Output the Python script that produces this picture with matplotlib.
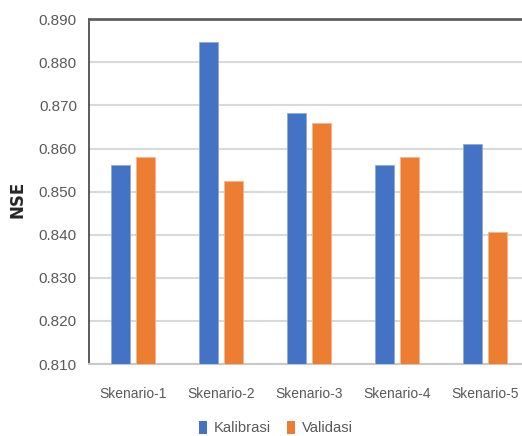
import matplotlib
matplotlib.use("Agg")
import matplotlib.pyplot as plt
import numpy as np
from matplotlib.patches import Patch

scenarios = ["Skenario-1", "Skenario-2", "Skenario-3", "Skenario-4", "Skenario-5"]
kalibrasi = [0.8562, 0.8847, 0.8682, 0.8562, 0.8611]
validasi = [0.8581, 0.8524, 0.8659, 0.8581, 0.8407]
y_ticks = [0.810, 0.820, 0.830, 0.840, 0.850, 0.860, 0.870, 0.880, 0.890]

BLUE = "#4472C4"
ORANGE = "#ED7D31"
TEXT = "#595959"
FONT = ["Liberation Sans", "DejaVu Sans"]

fig = plt.figure(figsize=(5.22, 4.36), dpi=100)
ax = fig.add_axes([0.170, 0.165, 0.843, 0.791])

x = np.arange(len(scenarios))
w = 0.216
off = 0.141
ax.bar(x - off, kalibrasi, width=w, color=BLUE, edgecolor="#8fa9dc", linewidth=0.6, zorder=3)
ax.bar(x + off, validasi, width=w, color=ORANGE, edgecolor="#f5b48f", linewidth=0.6, zorder=3)

ax.set_xlim(-0.5, len(scenarios) - 0.5)
ax.set_ylim(0.810, 0.890)
ax.set_yticks(y_ticks)
ax.set_yticklabels([f"{v:.3f}" for v in y_ticks])
ax.set_xticks(x)
ax.set_xticklabels(scenarios)

ax.yaxis.grid(True, color="#d9d9d9", linewidth=1.5, zorder=0)
ax.set_axisbelow(True)
ax.tick_params(axis="both", length=0, colors=TEXT)
ax.tick_params(axis="y", pad=8.5)
ax.tick_params(axis="x", pad=16.5)
for lab in ax.get_yticklabels():
    lab.set_family(FONT)
    lab.set_fontsize(11)
for lab in ax.get_xticklabels():
    lab.set_family(FONT)
    lab.set_fontsize(10)

ax.spines["right"].set_visible(False)
ax.spines["left"].set_color("#404040")
ax.spines["left"].set_linewidth(1.2)
ax.spines["top"].set_color("#606060")
ax.spines["top"].set_linewidth(2.0)
ax.spines["bottom"].set_color("#c8c8c8")
ax.spines["bottom"].set_linewidth(1.5)

fig.text(17 / 522, 1 - 199 / 436, "NSE", rotation=90, ha="center", va="center",
         fontsize=12, fontweight="bold", color="#262626", family="DejaVu Sans")

handles = [Patch(facecolor=BLUE, label="Kalibrasi"), Patch(facecolor=ORANGE, label="Validasi")]
leg = fig.legend(handles=handles, loc="center", bbox_to_anchor=(276 / 522, 1 - 428 / 436),
                 ncol=2, frameon=False, handlelength=0.55, handleheight=1.0,
                 handletextpad=0.45, columnspacing=1.1,
                 prop={"family": FONT, "size": 10.6})
for t in leg.get_texts():
    t.set_color(TEXT)

fig.savefig("out.png", dpi=100)
